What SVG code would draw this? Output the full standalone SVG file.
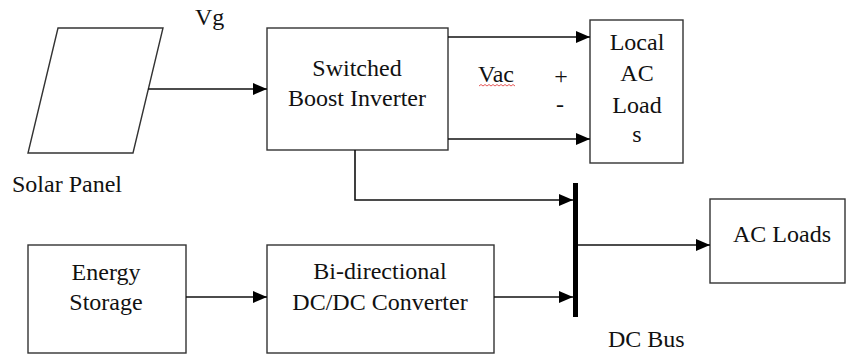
<svg xmlns="http://www.w3.org/2000/svg" width="846" height="356" viewBox="0 0 846 356">
<defs>
<style>
.box{fill:#fff;stroke:#333;stroke-width:1.4}
.ln{fill:none;stroke:#111;stroke-width:1.6}
text{font-family:'Liberation Serif','Times New Roman',serif;font-size:24px;fill:#111}
.c{text-anchor:middle}
</style>
<marker id="ah" markerWidth="14" markerHeight="12" refX="14" refY="6" orient="auto" markerUnits="userSpaceOnUse">
<path d="M0,0 L14,6 L0,12 Z" fill="#000"/>
</marker>
</defs>
<rect width="846" height="356" fill="#fff"/>
<g id="solar-panel">
<polygon class="box" points="58,28 163,28 133,153 28,153"/>
<text x="12" y="192">Solar Panel</text>
</g>
<g id="vg-label"><text x="195" y="25">Vg</text></g>
<g id="switched-boost-inverter">
<rect class="box" x="267" y="28" width="181" height="122"/>
<text class="c" x="357" y="76">Switched</text>
<text class="c" x="357" y="106">Boost Inverter</text>
</g>
<g id="vac-label">
<text x="478" y="82">Vac</text>
<path d="M479,86 l2,-1.5 l2,1.5 l2,-1.5 l2,1.5 l2,-1.5 l2,1.5 l2,-1.5 l2,1.5 l2,-1.5 l2,1.5 l2,-1.5 l2,1.5 l2,-1.5 l2,1.5 l2,-1.5 l2,1.5 l2,-1.5 l2,1.5" fill="none" stroke="#e03030" stroke-width="0.8"/>
<text class="c" x="561" y="84">+</text>
<text class="c" x="560" y="112">-</text>
</g>
<g id="local-ac-loads">
<rect class="box" x="590" y="20" width="93" height="143"/>
<text class="c" x="637" y="50">Local</text>
<text class="c" x="637" y="81">AC</text>
<text class="c" x="637" y="113">Load</text>
<text class="c" x="637" y="142">s</text>
</g>
<g id="energy-storage">
<rect class="box" x="28" y="245" width="158" height="108"/>
<text class="c" x="106" y="280">Energy</text>
<text class="c" x="106" y="310">Storage</text>
</g>
<g id="bidirectional-converter">
<rect class="box" x="267" y="245" width="227" height="108"/>
<text class="c" x="380" y="279">Bi-directional</text>
<text class="c" x="380" y="310">DC/DC Converter</text>
</g>
<g id="dc-bus">
<line x1="575.5" y1="183" x2="575.5" y2="317" stroke="#000" stroke-width="5"/>
<text x="608" y="347">DC Bus</text>
</g>
<g id="ac-loads">
<rect class="box" x="710" y="199" width="135" height="84"/>
<text class="c" x="782" y="242">AC Loads</text>
</g>
<g id="connectors">
<line class="ln" x1="148" y1="89" x2="267" y2="89" marker-end="url(#ah)"/>
<line class="ln" x1="448" y1="37" x2="590" y2="37" marker-end="url(#ah)"/>
<line class="ln" x1="448" y1="139" x2="590" y2="139" marker-end="url(#ah)"/>
<polyline class="ln" points="355,150 355,200 573,200" marker-end="url(#ah)"/>
<line class="ln" x1="186" y1="297" x2="267" y2="297" marker-end="url(#ah)"/>
<line class="ln" x1="494" y1="297" x2="573" y2="297" marker-end="url(#ah)"/>
<line class="ln" x1="578" y1="245" x2="710" y2="245" marker-end="url(#ah)"/>
</g>
</svg>
